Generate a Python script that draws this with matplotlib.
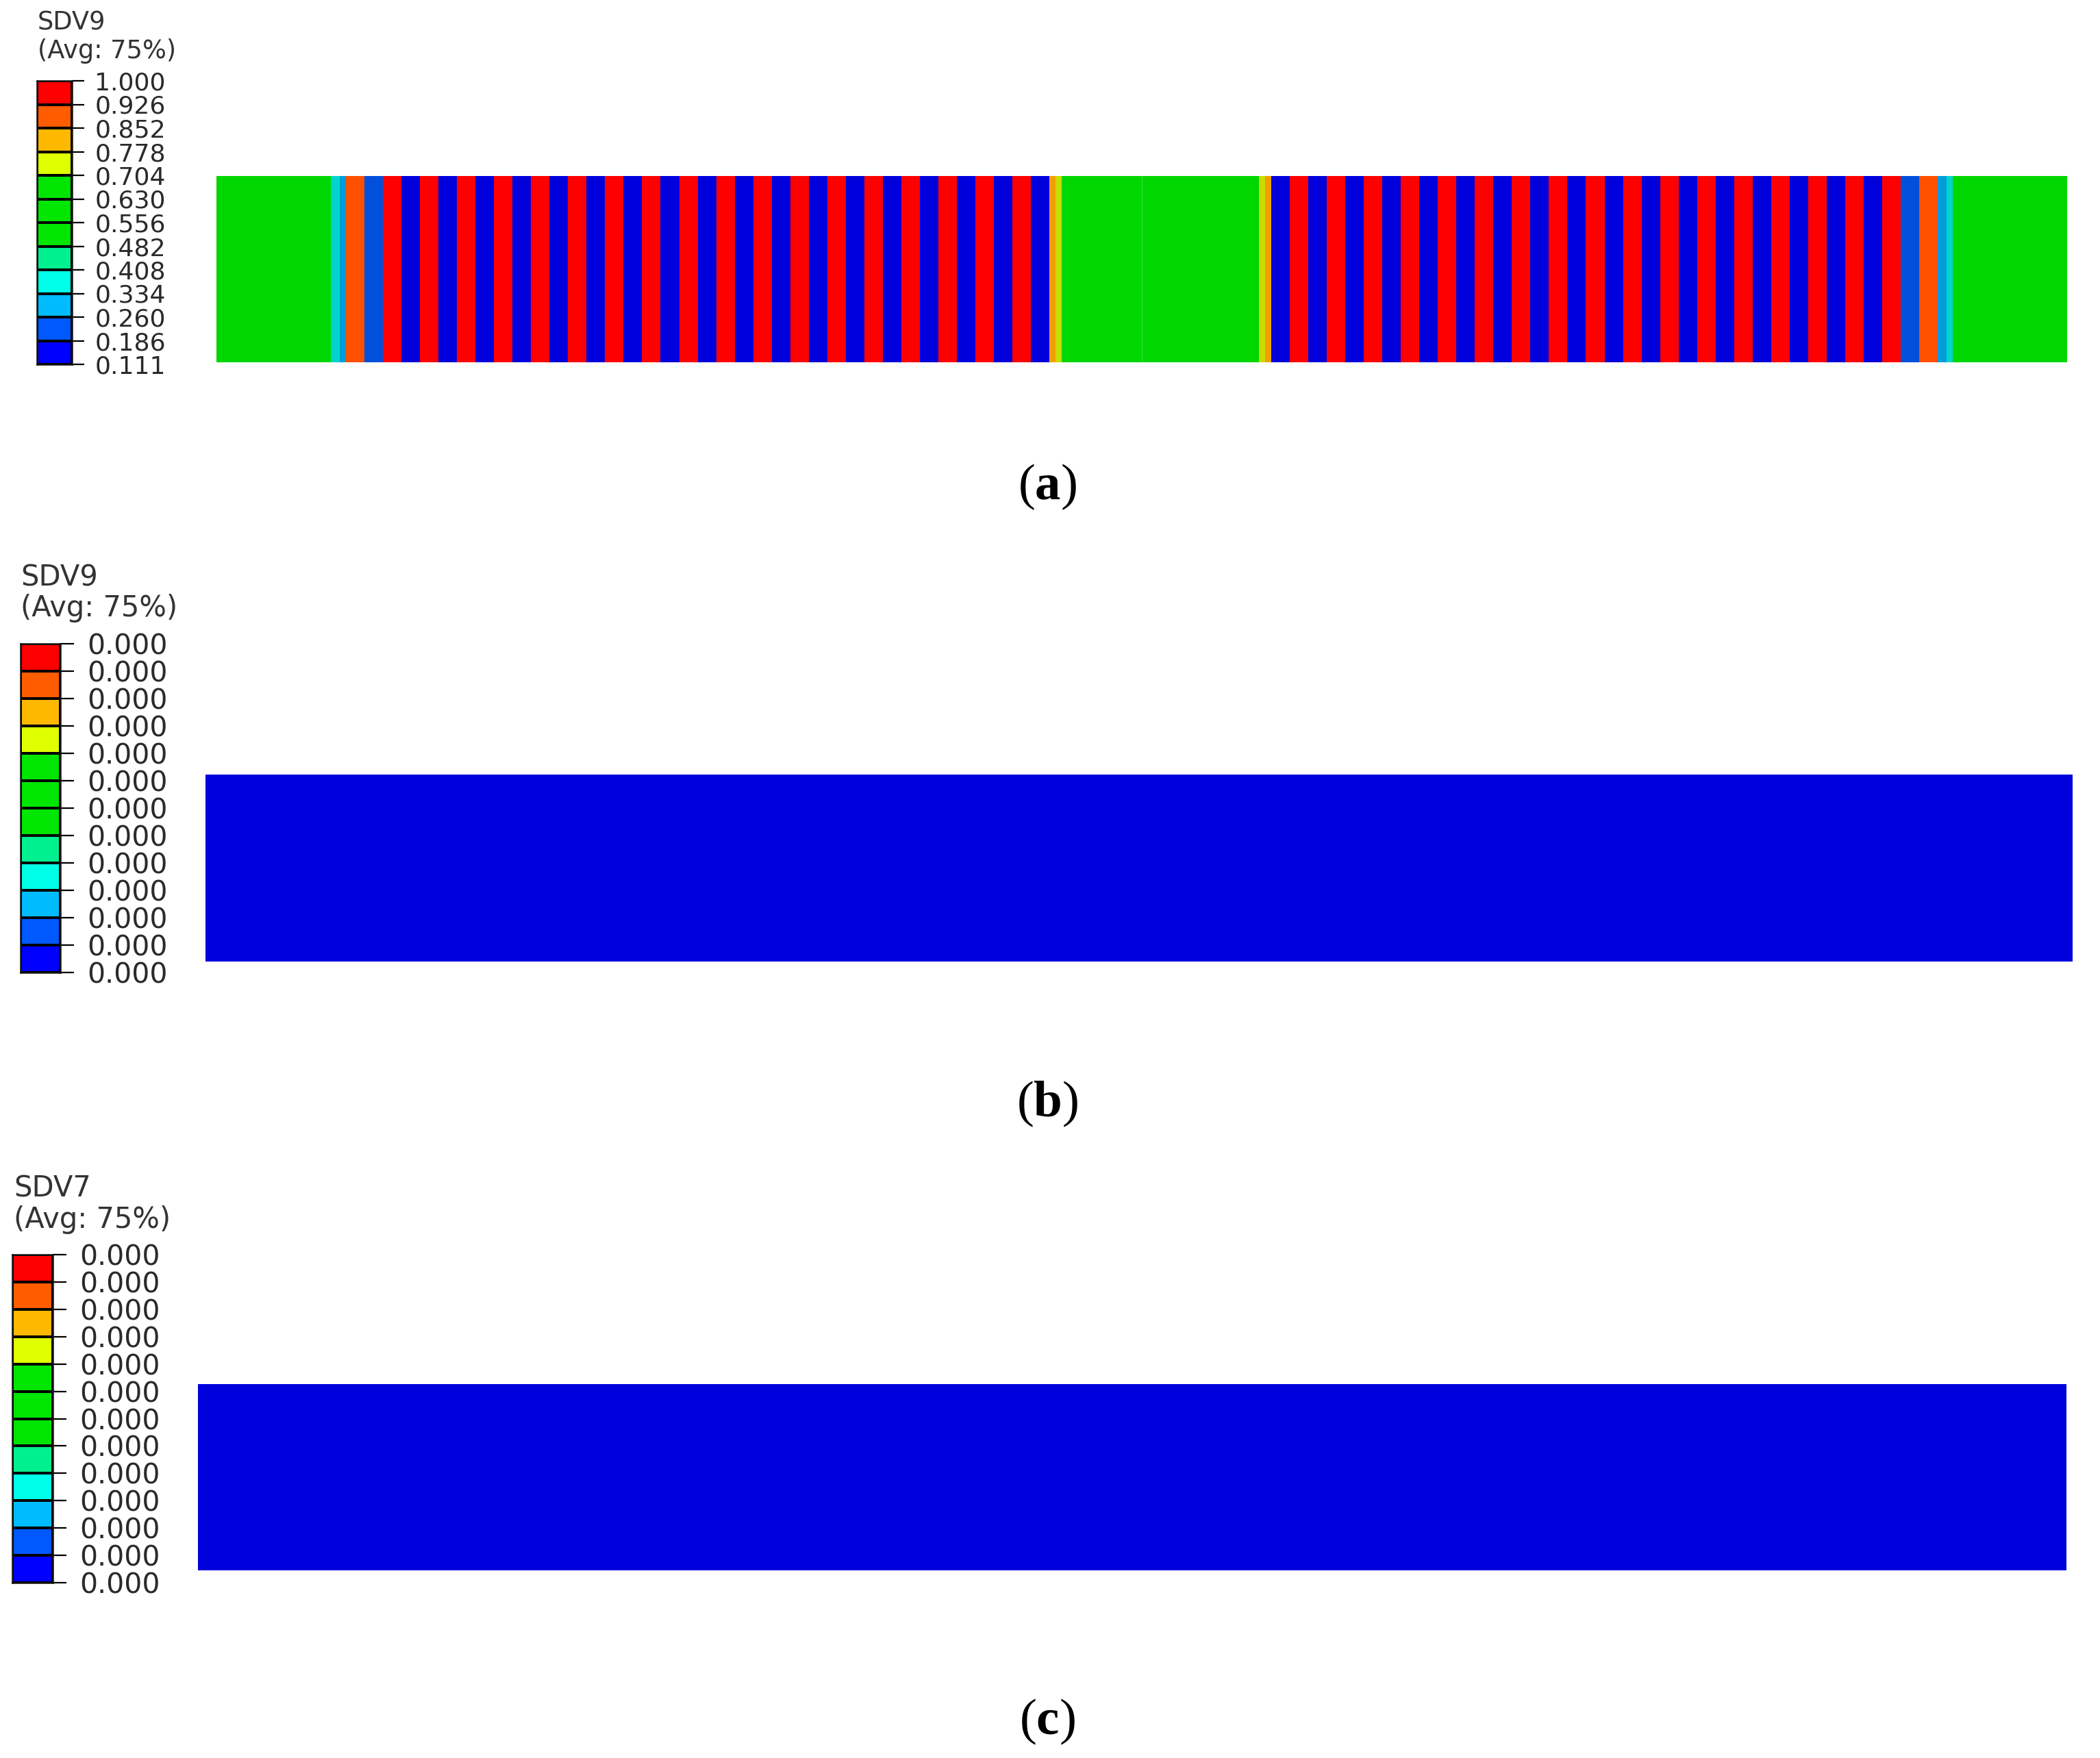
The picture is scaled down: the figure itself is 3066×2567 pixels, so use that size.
import numpy as np
import matplotlib
matplotlib.use('Agg')
import matplotlib.pyplot as plt
from matplotlib.colors import ListedColormap, BoundaryNorm

plt.rcParams['mathtext.fontset'] = 'custom'
plt.rcParams['mathtext.rm'] = 'Liberation Serif'
plt.rcParams['mathtext.bf'] = 'Liberation Serif:bold'

W, H = 3066, 2567

# ---------------- data ----------------
legend_levels_a = [0.111, 0.186, 0.260, 0.334, 0.408, 0.482, 0.556,
                   0.630, 0.704, 0.778, 0.852, 0.926, 1.000]
tick_labels_a = ['0.111', '0.186', '0.260', '0.334', '0.408', '0.482', '0.556',
                 '0.630', '0.704', '0.778', '0.852', '0.926', '1.000']
tick_labels_b = ['0.000', '0.000', '0.000', '0.000', '0.000', '0.000', '0.000',
                 '0.000', '0.000', '0.000', '0.000', '0.000', '0.000']
tick_labels_c = ['0.000', '0.000', '0.000', '0.000', '0.000', '0.000', '0.000',
                 '0.000', '0.000', '0.000', '0.000', '0.000', '0.000']
titles = ['SDV9', 'SDV9', 'SDV7']
subtitle = '(Avg: 75%)'
panel_letters = ['a', 'b', 'c']

# legend (spectrum) colours, bottom -> top
legend_colors = ['#0000FF', '#0058FF', '#00BCFF', '#00FFE8', '#00F090', '#00E600',
                 '#00E600', '#00E600', '#E0FF00', '#FFB800', '#FF5C00', '#FF0000']
# shaded colours as they appear on the model
bar_colors = ['#0000DC', '#0050DC', '#009CDC', '#00D4CC', '#00D890', '#00D600',
              '#00D600', '#00D600', '#C8DC00', '#F0A000', '#FF5000', '#FF0000']

# panel (a): SDV9 value per element along the bar (100 elements)
sdv9_a_elements = [
    0.60, 0.60, 0.60, 0.60, 0.60, 0.60, 0.37, 0.89, 0.22, 0.97,
    0.13, 0.97, 0.13, 0.97, 0.13, 0.97, 0.13, 0.97, 0.13, 0.97,
    0.13, 0.97, 0.13, 0.97, 0.13, 0.97, 0.13, 0.97, 0.13, 0.97,
    0.13, 0.97, 0.13, 0.97, 0.13, 0.97, 0.13, 0.97, 0.13, 0.97,
    0.13, 0.97, 0.13, 0.97, 0.13, 0.74, 0.60, 0.60, 0.60, 0.60,
    0.60, 0.60, 0.60, 0.60, 0.60, 0.60, 0.74, 0.13, 0.97, 0.13,
    0.97, 0.13, 0.97, 0.13, 0.97, 0.13, 0.97, 0.13, 0.97, 0.13,
    0.97, 0.13, 0.97, 0.13, 0.97, 0.13, 0.97, 0.13, 0.97, 0.13,
    0.97, 0.13, 0.97, 0.13, 0.97, 0.13, 0.97, 0.13, 0.97, 0.13,
    0.97, 0.22, 0.89, 0.37, 0.60, 0.60, 0.60, 0.60, 0.60, 0.60,
]
# within-element gradients of the transition elements (6 samples each)
sdv9_a_transitions = {
    6:  [0.60, 0.37, 0.37, 0.37, 0.30, 0.30],
    45: [0.81, 0.81, 0.74, 0.74, 0.60, 0.60],
    56: [0.60, 0.60, 0.74, 0.74, 0.81, 0.81],
    93: [0.30, 0.30, 0.30, 0.37, 0.37, 0.60],
}
sdv9_b_elements = [0.0] * 100
sdv7_c_elements = [0.0] * 100
part_seam_a = 50

# ---------------- figure ----------------
fig = plt.figure(figsize=(W / 100, H / 100), dpi=100)


def px_axes(x0, y0, x1, y1):
    return fig.add_axes([x0 / W, 1 - y1 / H, (x1 - x0) / W, (y1 - y0) / H])


bar_cmap = ListedColormap(bar_colors)
bar_cmap.set_under(bar_colors[0])
bar_cmap.set_over(bar_colors[-1])
norm = BoundaryNorm(legend_levels_a, bar_cmap.N)

NSUB = 6


def draw_bar(box, elements, transitions=None, seam=None):
    ax = px_axes(*box)
    field = np.repeat(np.asarray(elements, float), NSUB)
    if transitions:
        for k, v in transitions.items():
            field[k * NSUB:(k + 1) * NSUB] = v
    n = len(elements)
    xe = np.linspace(0, n, n * NSUB + 1)
    ax.pcolormesh(xe, [0, 1], field[None, :], cmap=bar_cmap, norm=norm,
                  shading='flat', antialiased=False)
    if seam is not None:
        ax.axvline(seam, color='#30DC30', lw=1.0)
    ax.set_xlim(0, n)
    ax.set_ylim(0, 1)
    ax.axis('off')
    return ax


def draw_legend(box, labels, fs, ticklen, pad):
    ax = px_axes(*box)
    idx = np.arange(12).reshape(12, 1)
    ax.pcolormesh([0, 1], np.arange(13), idx, cmap=ListedColormap(legend_colors),
                  vmin=-0.5, vmax=11.5, edgecolors='k', linewidth=1.6)
    ax.set_xlim(0, 1)
    ax.set_ylim(0, 12)
    ax.set_xticks([])
    ax.yaxis.tick_right()
    ax.set_yticks(np.arange(13))
    ax.set_yticklabels(labels)
    ax.tick_params(axis='y', length=ticklen, width=1.6, pad=pad,
                   labelsize=fs, labelcolor='#2a2a2a', color='k')
    for s in ax.spines.values():
        s.set_linewidth(1.8)
        s.set_color('#111111')
    return ax


def fig_text(x, y, s, **kw):
    fig.text(x / W, 1 - y / H, s, **kw)


# panel (a)
draw_bar((316, 257, 3018, 529), sdv9_a_elements, sdv9_a_transitions, part_seam_a)
draw_legend((54, 118, 105, 532), tick_labels_a, 26, 13, 11)
fig_text(55, 44, titles[0], fontsize=26.5, color='#333333', va='baseline')
fig_text(55, 85, subtitle, fontsize=26.5, color='#333333', va='baseline')

# panel (b)
draw_bar((300, 1131, 3026, 1404), sdv9_b_elements)
draw_legend((30, 940, 88, 1420), tick_labels_b, 29.5, 14.4, 14)
fig_text(30, 855, titles[1], fontsize=30, color='#333333', va='baseline')
fig_text(30, 900, subtitle, fontsize=30, color='#333333', va='baseline')

# panel (c)
draw_bar((289, 2021, 3017, 2293), sdv7_c_elements)
draw_legend((18, 1832, 77, 2311), tick_labels_c, 29.5, 14.4, 14)
fig_text(20, 1747, titles[2], fontsize=30, color='#333333', va='baseline')
fig_text(20, 1793, subtitle, fontsize=30, color='#333333', va='baseline')

# panel letters
for letter, yb in zip(panel_letters, [729, 1630, 2532]):
    fig_text(1529, yb, r'($\mathbf{%s}$)' % letter, fontsize=54,
             family='Liberation Serif', ha='center', va='baseline', color='black')

fig.savefig('out.png', dpi=100, facecolor='white')
